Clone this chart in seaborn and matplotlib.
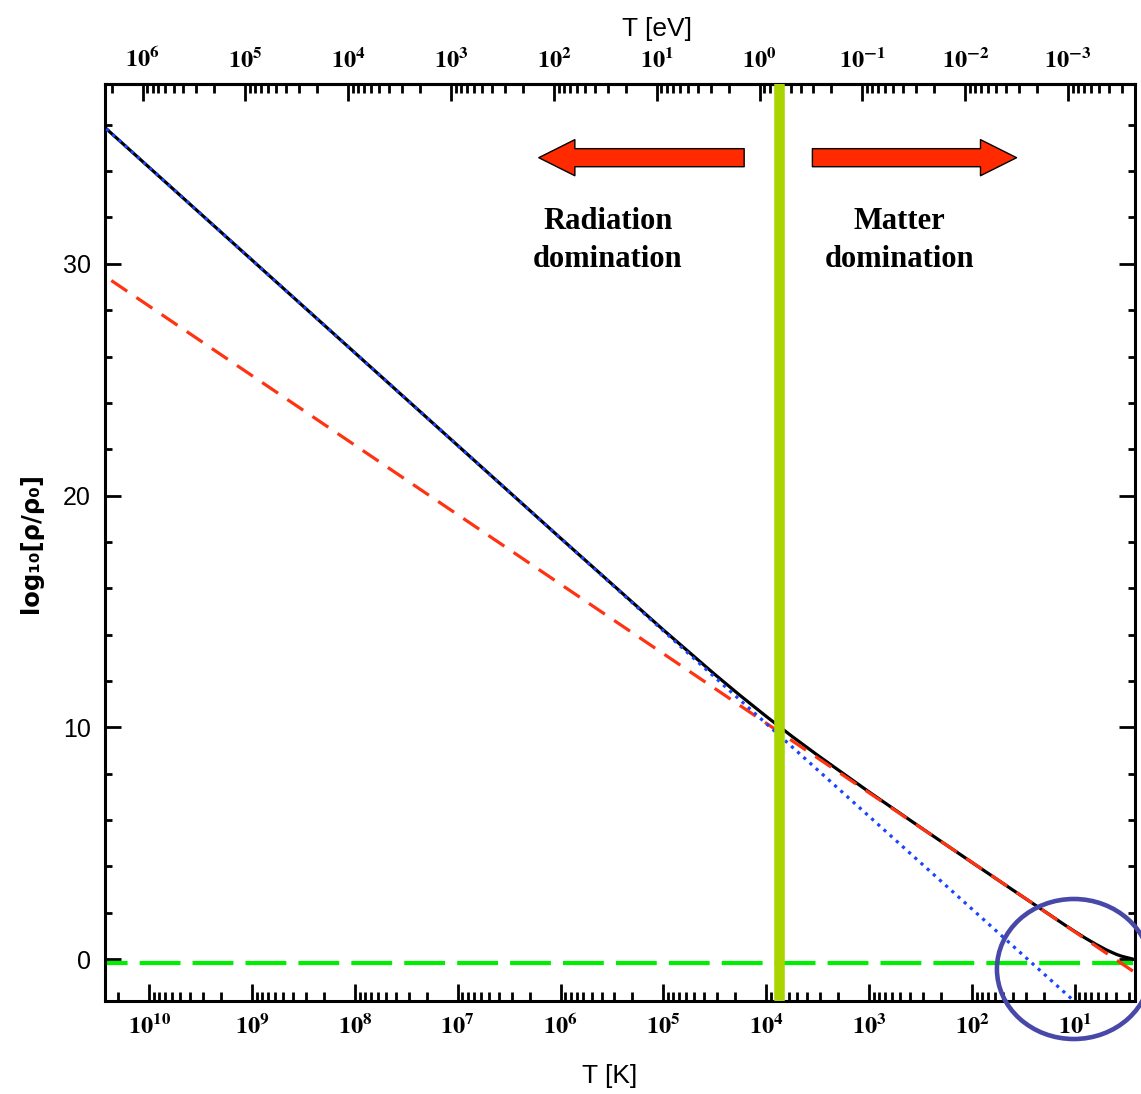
import matplotlib
matplotlib.use('Agg')

import numpy as np
import matplotlib.pyplot as plt
import seaborn as sns
from matplotlib.ticker import LogLocator, MultipleLocator, FuncFormatter, NullFormatter
from matplotlib.patches import Ellipse

# --- data ---
# end points of the straight components (T in K)
T_ends = [2.725e10, 2.725]
rad_ends = [35.9, -4.1]        # radiation, blue dotted
mat_ends = [29.48, -0.52]      # matter, red dashed
lam_ends = [-0.155, -0.155]    # cosmological constant, green dashed

# total density, black solid
T_total = [2.725e10, 1e9, 1e8, 1e7, 1e6, 1e5, 3.16e4, 1.78e4, 1e4, 5.62e3,
           3.16e3, 1e3, 316, 100, 56.2, 31.6, 17.8, 12.6, 10, 7.94, 6.31,
           5.62, 5.01, 4.47, 3.98, 3.55, 3.16, 2.725]
total_vals = [35.90, 30.16, 26.16, 22.16, 18.16, 14.20, 12.28, 11.36, 10.47, 9.61,
              8.79, 7.21, 5.68, 4.17, 3.42, 2.67, 1.93, 1.48, 1.19, 0.91, 0.65,
              0.53, 0.41, 0.31, 0.21, 0.13, 0.07, 0.00]

T_eq = 7.5e3          # matter-radiation equality marker
K_TO_EV = 8.617e-5
T_lim = (2.72e10, 2.6)

# annotations
arrow_y = 34.58
rad_arrow = (1.64e4, 1.63e6)   # tail, tip
mat_arrow = (3.56e3, 36.8)
text_y = 31.0
rad_text_x = 3.46e5
mat_text_x = 507
circle_center = (10.2, -0.43)


def make_label(lo, hi):
    def pow_label(v, pos):
        if v <= 0 or v < lo * 0.999 or v > hi * 1.001:
            return ''
        return r'$\mathbf{10^{%d}}$' % int(round(np.log10(v)))
    return pow_label


sns.set_style('ticks')
plt.rcParams['font.family'] = ['Liberation Sans', 'DejaVu Sans']
plt.rcParams['mathtext.fontset'] = 'stix'
plt.rcParams['text.color'] = 'black'
plt.rcParams['axes.labelcolor'] = 'black'

fig = plt.figure(figsize=(11.41, 10.94), dpi=100)
ax = fig.add_axes([0.0916, 0.0846, 0.9031, 0.8382])
ax.set_xscale('log')

# --- curves ---
sns.lineplot(x=T_ends, y=lam_ends, ax=ax, color='#00ee00', lw=3,
             linestyle=(0, (9.8, 2.9)), errorbar=None, zorder=1)
sns.lineplot(x=T_total, y=total_vals, ax=ax, color='black', lw=2.3,
             errorbar=None, zorder=2)
sns.lineplot(x=T_ends, y=mat_ends, ax=ax, color='#ff3311', lw=2.3,
             linestyle=(0, (6, 3.5)), errorbar=None, zorder=3)
sns.lineplot(x=T_ends, y=rad_ends, ax=ax, color='#1a44ff', lw=2.3,
             linestyle=(0, (1, 1.6)), errorbar=None, zorder=4)
ax.axvline(T_eq, color='#aad400', lw=7.6, zorder=5)

ax.set_xlim(*T_lim)
ax.set_ylim(-1.83, 37.74)

# --- ticks ---
ax.xaxis.set_major_locator(LogLocator(base=10, numticks=30))
ax.xaxis.set_minor_locator(LogLocator(base=10, subs=np.arange(2, 10), numticks=200))
ax.xaxis.set_major_formatter(FuncFormatter(make_label(T_lim[1], T_lim[0])))
ax.xaxis.set_minor_formatter(NullFormatter())
ax.yaxis.set_major_locator(MultipleLocator(10))
ax.yaxis.set_minor_locator(MultipleLocator(2))
ax.tick_params(axis='x', which='major', direction='in', length=12, width=2,
               labelsize=17.5, pad=9, top=False, colors='black')
ax.tick_params(axis='x', which='minor', direction='in', length=6.5, width=2,
               top=False, colors='black')
ax.tick_params(axis='y', which='major', direction='in', length=11.5, width=2,
               labelsize=18, pad=10, right=True, colors='black')
ax.tick_params(axis='y', which='minor', direction='in', length=5, width=2,
               right=True, colors='black')
for s in ax.spines.values():
    s.set_linewidth(2.2)
    s.set_color('black')

secax = ax.secondary_xaxis('top', functions=(lambda t: t * K_TO_EV,
                                             lambda e: e / K_TO_EV))
secax.xaxis.set_major_locator(LogLocator(base=10, numticks=30))
secax.xaxis.set_minor_locator(LogLocator(base=10, subs=np.arange(2, 10), numticks=200))
secax.xaxis.set_major_formatter(FuncFormatter(make_label(T_lim[1] * K_TO_EV,
                                                         T_lim[0] * K_TO_EV)))
secax.xaxis.set_minor_formatter(NullFormatter())
secax.tick_params(which='major', direction='in', length=12, width=2,
                  labelsize=17.5, pad=9, colors='black')
secax.tick_params(which='minor', direction='in', length=6.5, width=2, colors='black')
for s in secax.spines.values():
    s.set_linewidth(2.2)
    s.set_color('black')

# --- labels ---
ax.set_xlabel('T [K]', fontsize=19, labelpad=18)
ax.xaxis.label.set_x(0.49)
secax.set_xlabel('T [eV]', fontsize=19, labelpad=8)
secax.xaxis.label.set_x(0.536)
ax.set_ylabel('log₁₀[ρ/ρ₀]', fontsize=17.5, fontweight='bold', labelpad=14,
              family='DejaVu Sans')

# --- annotations ---
arrow_kw = dict(arrowstyle='simple,head_length=1.3,head_width=1.3,tail_width=0.65',
                mutation_scale=20, fc='#ff2a00', ec='black', lw=1,
                shrinkA=0, shrinkB=0)
ax.annotate('', xy=(rad_arrow[1], arrow_y), xytext=(rad_arrow[0], arrow_y),
            arrowprops=arrow_kw, zorder=6)
ax.annotate('', xy=(mat_arrow[1], arrow_y), xytext=(mat_arrow[0], arrow_y),
            arrowprops=arrow_kw, zorder=6)

txt_kw = dict(ha='center', va='center', fontsize=22, fontweight='bold',
              family='Liberation Serif', linespacing=1.4, color='black')
ax.text(rad_text_x, text_y, 'Radiation\ndomination', **txt_kw)
ax.text(mat_text_x, text_y, 'Matter\ndomination', **txt_kw)

cx, cy = ax.transAxes.inverted().transform(ax.transData.transform(circle_center))
ax.add_patch(Ellipse((cx, cy), 0.1494, 0.1527, transform=ax.transAxes, fill=False,
                     ec='#4848a8', lw=3.3, clip_on=False, zorder=7))

fig.savefig('out.png', dpi=100)
